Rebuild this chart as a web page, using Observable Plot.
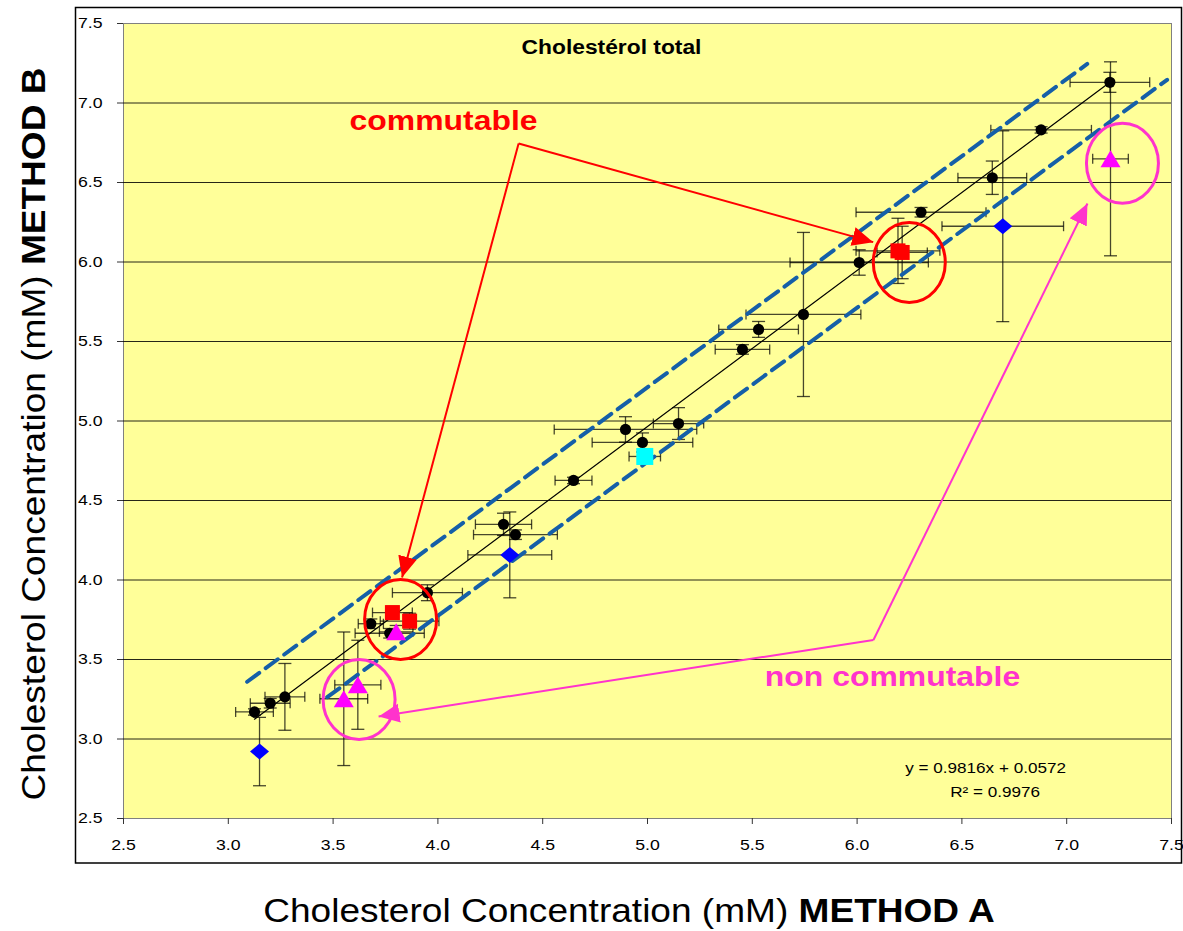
<!DOCTYPE html>
<html>
<head>
<meta charset="utf-8">
<script src="https://cdn.jsdelivr.net/npm/d3@7"></script>
<script src="https://cdn.jsdelivr.net/npm/@observablehq/plot@0.6"></script>
<style>
  html, body { margin: 0; padding: 0; background: #fff; }
  #chart svg { display: block; }
</style>
</head>
<body>
<div id="chart"></div>
<script>
// Axis ticks (mM)
const xTicks = [2.5, 3.0, 3.5, 4.0, 4.5, 5.0, 5.5, 6.0, 6.5, 7.0, 7.5];
const yTicks = [2.5, 3.0, 3.5, 4.0, 4.5, 5.0, 5.5, 6.0, 6.5, 7.0, 7.5];

// Patient samples: concentration by method A and B, with their standard deviations
const sampleA   = [3.125, 3.20, 3.27, 3.68, 3.77, 3.95, 4.313, 4.37, 4.647, 4.895, 4.976, 5.148, 5.453, 5.53, 5.744, 6.01, 6.305, 6.645, 6.878, 7.206];
const sampleB   = [3.17, 3.225, 3.265, 3.725, 3.665, 3.92, 4.35, 4.285, 4.626, 4.947, 4.865, 4.984, 5.45, 5.576, 5.67, 5.997, 6.313, 6.53, 6.831, 7.13];
const sampleSdA = [0.09, 0.095, 0.095, 0.06, 0.165, 0.167, 0.134, 0.2, 0.088, 0.34, 0.24, 0.12, 0.13, 0.19, 0.274, 0.33, 0.31, 0.164, 0.24, 0.19];
const sampleSdB = [0.02, 0.03, 0.21, 0.03, 0.03, 0.05, 0.07, 0.03, 0.02, 0.08, 0.06, 0.1, 0.03, 0.05, 0.516, 0.08, 0.03, 0.105, 0.02, 0.063];

// Commutable control materials (red squares)
const commA   = [3.783, 3.865, 6.195, 6.215];
const commB   = [3.795, 3.741, 6.07, 6.06];
const commSdA = [0.095, 0.14, 0.2, 0.12];
const commSdB = [0.04, 0.05, 0.205, 0.165];

// Calibrator (cyan square)
const calA   = [4.987];
const calB   = [4.777];
const calSdA = [0.075];
const calSdB = [0.02];

// Control materials (blue diamonds)
const qcA   = [3.149, 4.343, 6.695];
const qcB   = [2.921, 4.158, 6.225];
const qcSdA = [0, 0.2, 0.29];
const qcSdB = [0.215, 0.27, 0.6];

// Non-commutable materials (magenta triangles)
const nonA   = [3.551, 3.618, 3.801, 7.209];
const nonB   = [3.253, 3.341, 3.674, 6.649];
const nonSdA = [0.114, 0.11, 0.08, 0.085];
const nonSdB = [0.42, 0.28, 0.04, 0.61];

// Least-squares fit of method B on method A
const fitSlope = 0.9816;
const fitIntercept = 0.0572;
const fitR2 = 0.9976;

// Acceptance limits around the fit (dashed)
const upperLimitA = [3.09, 7.098];
const upperLimitB = [3.36, 7.246];
const lowerLimitA = [3.472, 7.479];
const lowerLimitB = [3.263, 7.146];

// Ringed groups
const commRingA = [6.249, 3.822];
const commRingB = [5.997, 3.752];
const nonRingA  = [3.624, 7.266];
const nonRingB  = [3.248, 6.621];

// Callout labels and their arrows
const commLabel = {x: 4.027, y: 6.884, text: "commutable"};
const commFrom  = [4.385, 6.745];
const commToA   = [6.077, 3.829];
const commToB   = [6.125, 4.016];
const nonLabel  = {x: 6.169, y: 3.39, text: "non commutable"};
const nonFrom   = [6.078, 3.623];
const nonToA    = [7.099, 3.717];
const nonToB    = [6.368, 3.142];

const RED = "#ff0000";
const PINK = "#ff33cc";
const ERR = "rgba(0,0,0,0.72)";
const fmt = d3.format(".1f");

const toPoints = (a, b, sa, sb) => a.map((x, i) => ({x, y: b[i], sx: sa[i], sy: sb[i]}));
const samples = toPoints(sampleA, sampleB, sampleSdA, sampleSdB);
const comm = toPoints(commA, commB, commSdA, commSdB);
const cal = toPoints(calA, calB, calSdA, calSdB);
const qc = toPoints(qcA, qcB, qcSdA, qcSdB);
const non = toPoints(nonA, nonB, nonSdA, nonSdB);
const allPoints = [...samples, ...qc, ...cal, ...comm, ...non];

const hBars = allPoints.filter(d => d.sx > 0);
const vBars = allPoints.filter(d => d.sy > 0);
const hCaps = hBars.flatMap(d => [{x: d.x - d.sx, y: d.y}, {x: d.x + d.sx, y: d.y}]);
const vCaps = vBars.flatMap(d => [{x: d.x, y: d.y - d.sy}, {x: d.x, y: d.y + d.sy}]);

// Custom symbols
const capV = {draw(ctx) { ctx.moveTo(0, -5); ctx.lineTo(0, 5); }};
const capH = {draw(ctx) { ctx.moveTo(-6.5, 0); ctx.lineTo(6.5, 0); }};
const rhomb = {draw(ctx) { ctx.moveTo(0, -8); ctx.lineTo(9.5, 0); ctx.lineTo(0, 8); ctx.lineTo(-9.5, 0); ctx.closePath(); }};
const tri = {draw(ctx) { ctx.moveTo(0, -8.5); ctx.lineTo(10, 8.5); ctx.lineTo(-10, 8.5); ctx.closePath(); }};
const box = (s) => ({draw(ctx) { ctx.rect(-s / 2, -s / 2, s, s); }});
const ring = {draw(ctx) {
  const rx = 36, ry = 40, k = 0.5523;
  ctx.moveTo(rx, 0);
  ctx.bezierCurveTo(rx, ry * k, rx * k, ry, 0, ry);
  ctx.bezierCurveTo(-rx * k, ry, -rx, ry * k, -rx, 0);
  ctx.bezierCurveTo(-rx, -ry * k, -rx * k, -ry, 0, -ry);
  ctx.bezierCurveTo(rx * k, -ry, rx, -ry * k, rx, 0);
  ctx.closePath();
}};

// Filled arrowhead used at the end of the callout lines
function solidHead(color) {
  const m = d3.create("svg:marker")
    .attr("viewBox", "-21 -10 21 20")
    .attr("refX", 0).attr("refY", 0)
    .attr("markerWidth", 21).attr("markerHeight", 20)
    .attr("markerUnits", "userSpaceOnUse")
    .attr("orient", "auto");
  m.append("path").attr("d", "M-21,-9.5L0,0L-21,9.5Z").attr("fill", color).attr("stroke", "none");
  return m.node();
}

const fitRange = d3.extent(sampleA).map(x => ({x, y: fitSlope * x + fitIntercept}));
const upperLimit = upperLimitA.map((x, i) => ({x, y: upperLimitB[i]}));
const lowerLimit = lowerLimitA.map((x, i) => ({x, y: lowerLimitB[i]}));
const commRings = commRingA.map((x, i) => ({x, y: commRingB[i]}));
const nonRings = nonRingA.map((x, i) => ({x, y: nonRingB[i]}));
const commArrows = commToA.map((x, i) => ({x1: commFrom[0], y1: commFrom[1], x2: x, y2: commToB[i]}));
const nonArrows = nonToA.map((x, i) => ({x1: nonFrom[0], y1: nonFrom[1], x2: x, y2: nonToB[i]}));

const chart = Plot.plot({
  width: 1183,
  height: 931,
  marginLeft: 123,
  marginRight: 12,
  marginTop: 23,
  marginBottom: 113,
  style: {fontFamily: "'Liberation Sans', Arial, sans-serif", fontSize: "15px", color: "#000", background: "#fff"},
  x: {domain: [2.5, 7.5], label: null},
  y: {domain: [2.5, 7.5], label: null},
  marks: [
    Plot.frame({fill: "#ffff99", stroke: "#808080"}),
    Plot.gridY(yTicks.filter(v => v > 2.5 && v < 7.5), {stroke: "#000", strokeOpacity: 0.85, strokeWidth: 1}),
    Plot.axisX(xTicks, {tickFormat: fmt, tickSize: 6, tickPadding: 14, fontSize: 15.5, stroke: "#333", label: null}),
    Plot.axisY(yTicks, {tickFormat: fmt, tickSize: 6, tickPadding: 15, fontSize: 15.5, stroke: "#333", label: null}),

    // error bars
    Plot.link(hBars, {x1: d => d.x - d.sx, x2: d => d.x + d.sx, y1: "y", y2: "y", stroke: ERR, strokeWidth: 1.3}),
    Plot.link(vBars, {x1: "x", x2: "x", y1: d => d.y - d.sy, y2: d => d.y + d.sy, stroke: ERR, strokeWidth: 1.3}),
    Plot.dot(hCaps, {x: "x", y: "y", symbol: capV, fill: "none", stroke: ERR, strokeWidth: 1.3}),
    Plot.dot(vCaps, {x: "x", y: "y", symbol: capH, fill: "none", stroke: ERR, strokeWidth: 1.3}),

    // acceptance limits and regression line
    Plot.line(upperLimit, {x: "x", y: "y", stroke: "#155fa8", strokeWidth: 4, strokeDasharray: "15,8"}),
    Plot.line(lowerLimit, {x: "x", y: "y", stroke: "#155fa8", strokeWidth: 4, strokeDasharray: "15,8"}),
    Plot.line(fitRange, {x: "x", y: "y", stroke: "#000", strokeWidth: 1.2}),

    // markers
    Plot.dot(samples, {x: "x", y: "y", r: 5.6, fill: "#000", symbol: "circle"}),
    Plot.dot(qc, {x: "x", y: "y", symbol: rhomb, fill: "#0000ff"}),
    Plot.dot(cal, {x: "x", y: "y", symbol: box(17), fill: "#00ffff"}),
    Plot.dot(comm, {x: "x", y: "y", symbol: box(15), fill: RED}),
    Plot.dot(non, {x: "x", y: "y", symbol: tri, fill: "#ff00ff"}),

    // rings and callouts
    Plot.dot(commRings, {x: "x", y: "y", symbol: ring, fill: "none", stroke: RED, strokeWidth: 3}),
    Plot.dot(nonRings, {x: "x", y: "y", symbol: ring, fill: "none", stroke: PINK, strokeWidth: 3}),
    Plot.link(commArrows, {x1: "x1", y1: "y1", x2: "x2", y2: "y2", stroke: RED, strokeWidth: 2, markerEnd: solidHead}),
    Plot.link(nonArrows, {x1: "x1", y1: "y1", x2: "x2", y2: "y2", stroke: PINK, strokeWidth: 2, markerEnd: solidHead}),
    Plot.text([commLabel], {x: "x", y: "y", text: "text", fill: RED, fontWeight: "bold", fontSize: 28}),
    Plot.text([nonLabel], {x: "x", y: "y", text: "text", fill: PINK, fontWeight: "bold", fontSize: 28}),

    // title and fit equation
    Plot.text(["Cholestérol total"], {text: d => d, frameAnchor: "top", lineAnchor: "middle", dx: -36, dy: 24, fontWeight: "bold", fontSize: 20, fill: "#000"}),
    Plot.text([`y = ${fitSlope}x + ${fitIntercept}`], {text: d => d, x: 6.613, y: 2.814, fontSize: 15, fill: "#000"}),
    Plot.text([`R² = ${fitR2}`], {text: d => d, x: 6.658, y: 2.663, fontSize: 15, fill: "#000"})
  ]
});

document.getElementById("chart").append(chart);
const svg = d3.select(chart);

// Chart area border
svg.append("rect")
  .attr("x", 75.5).attr("y", 7.5)
  .attr("width", 1106).attr("height", 855.5)
  .attr("fill", "none").attr("stroke", "#000").attr("stroke-width", 1.5);

// Axis titles with a bold method name
const axisTitle = (transform, method) => {
  const t = svg.append("text")
    .attr("transform", transform)
    .attr("text-anchor", "middle")
    .attr("font-size", 32.5)
    .attr("fill", "#000");
  t.append("tspan").text("Cholesterol Concentration (mM) ");
  t.append("tspan").attr("font-weight", "bold").text(method);
};
axisTitle("translate(629,922)", "METHOD A");
axisTitle("translate(45,434) rotate(-90)", "METHOD B");

// Widen the lettering slightly
svg.selectAll("text").each(function () {
  const w = this.getComputedTextLength();
  if (w > 0) {
    this.setAttribute("textLength", (w * 1.14).toFixed(1));
    this.setAttribute("lengthAdjust", "spacingAndGlyphs");
  }
});
</script>
</body>
</html>
